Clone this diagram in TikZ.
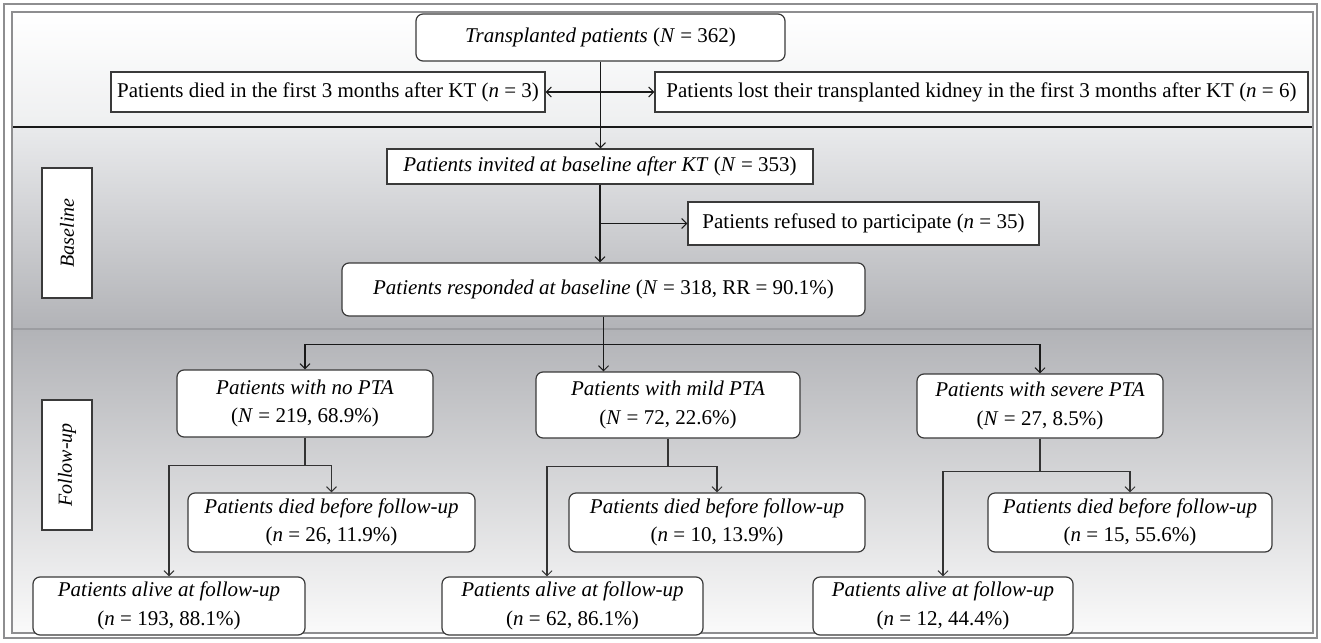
\documentclass[tikz,border=0pt]{standalone}
\usepackage{fontspec}
\setmainfont{Liberation Serif}
\usetikzlibrary{arrows.meta,calc}
\definecolor{boxline}{HTML}{3A3A3A}
\definecolor{sepgrey}{HTML}{9C9DA1}
\definecolor{framegrey}{HTML}{8E8E90}
\begin{document}
\begin{tikzpicture}[x=1pt,y=-1pt,
  font=\fontsize{21}{28.5}\selectfont,
  sq/.style={draw=boxline, line width=1.2pt, fill=white, inner sep=0pt, align=center},
  rd/.style={sq, rounded corners=7pt},
  conn/.style={line width=1.6pt, draw=black!90},
  connb/.style={line width=1.2pt, draw=black!80},
  tip/.style={-{Straight Barb[length=5pt,width=10pt,line width=1pt]}},
  dtip/.style={{Straight Barb[length=5pt,width=10pt,line width=1pt]}-{Straight Barb[length=5pt,width=10pt,line width=1pt]}}]
\useasboundingbox (0,0) rectangle (1321,642);
\fill[white] (0,0) rectangle (1321,642);
% backgrounds
\shade[top color=white, bottom color={rgb,255:red,238;green,239;blue,240}] (13,13) rectangle (1312,127);
\shade[top color={rgb,255:red,233;green,234;blue,236}, bottom color={rgb,255:red,178;green,179;blue,183}] (13,127) rectangle (1312,329);
\shade[top color={rgb,255:red,178;green,179;blue,183}, bottom color={rgb,255:red,250;green,250;blue,250}] (13,329) rectangle (1312,632);
% frame
\draw[framegrey, line width=2.5pt] (4,4) rectangle (1317,638);
\draw[framegrey, line width=1.5pt] (12,12) rectangle (1313,633);
% separators
\draw[black!90, line width=2.2pt] (13,127) -- (1312,127);
\draw[sepgrey, line width=1.5pt] (13,329) -- (1312,329);

% nodes
\node[rd, minimum width=369pt, minimum height=47pt] (top) at (600.5,37.5)
  {\textit{Transplanted patients} (\textit{N} = 362)};
\node[sq, minimum width=434pt, minimum height=40pt] (died3) at (328,92)
  {Patients died in the first 3 months after KT (\textit{n} = 3)};
\node[sq, minimum width=653pt, minimum height=40pt] (lost) at (981.5,92)
  {Patients lost their transplanted kidney in the first 3 months after KT (\textit{n} = 6)};
\node[sq, minimum width=426pt, minimum height=35pt] (inv) at (600,166.5)
  {\textit{Patients invited at baseline after KT} (\textit{N} = 353)};
\node[sq, minimum width=351pt, minimum height=43pt] (ref) at (863.5,223.5)
  {Patients refused to participate (\textit{n} = 35)};
\node[rd, minimum width=523pt, minimum height=53pt] (resp) at (603.5,289.5)
  {\textit{Patients responded at baseline} (\textit{N} = 318, RR = 90.1\%)};
\node[sq, rotate=90, minimum width=130pt, minimum height=50pt, font=\fontsize{20}{24}\selectfont\itshape] (bl) at (67,233) {Baseline};
\node[sq, rotate=90, minimum width=130pt, minimum height=50pt, font=\fontsize{20}{24}\selectfont\itshape] (fu) at (67,465) {Follow-up};

\node[rd, minimum width=256pt, minimum height=67pt] (nopta) at (305,403.5)
  {\textit{Patients with no PTA}\\(\textit{N} = 219, 68.9\%)};
\node[rd, minimum width=264pt, minimum height=66pt] (mild) at (668,405)
  {\textit{Patients with mild PTA}\\(\textit{N} = 72, 22.6\%)};
\node[rd, minimum width=246pt, minimum height=64pt] (sev) at (1040,406)
  {\textit{Patients with severe PTA}\\(\textit{N} = 27, 8.5\%)};

\node[rd, minimum width=287pt, minimum height=59pt] (d1) at (331.5,522.5)
  {\textit{Patients died before follow-up}\\(\textit{n} = 26, 11.9\%)};
\node[rd, minimum width=272pt, minimum height=58pt] (a1) at (169,606)
  {\textit{Patients alive at follow-up}\\(\textit{n} = 193, 88.1\%)};
\node[rd, minimum width=296pt, minimum height=59pt] (d2) at (717,522.5)
  {\textit{Patients died before follow-up}\\(\textit{n} = 10, 13.9\%)};
\node[rd, minimum width=261pt, minimum height=58pt] (a2) at (572.5,606)
  {\textit{Patients alive at follow-up}\\(\textit{n} = 62, 86.1\%)};
\node[rd, minimum width=284pt, minimum height=59pt] (d3) at (1130,522.5)
  {\textit{Patients died before follow-up}\\(\textit{n} = 15, 55.6\%)};
\node[rd, minimum width=260pt, minimum height=58pt] (a3) at (943,606)
  {\textit{Patients alive at follow-up}\\(\textit{n} = 12, 44.4\%)};

% connectors
\draw[conn, tip] (top.south) -- (top.south |- inv.north);
\draw[conn, dtip] (died3.east) -- (lost.west);
\draw[conn, tip] (inv.south) -- (inv.south |- resp.north);
\draw[conn, tip] (inv.south |- ref.west) -- (ref.west);
\coordinate (br) at ($(resp.south)+(0,28)$);
\draw[conn, tip] (resp.south) -- (resp.south |- mild.north);
\draw[conn, tip] (br) -| (nopta.north);
\draw[conn, tip] (br) -| (sev.north);

\coordinate (b1) at ($(nopta.south)+(0,28)$);
\draw[connb] (nopta.south) -- (b1);
\draw[connb, tip] (b1) -| (d1.north);
\draw[connb, tip] (b1) -| (a1.north);

\coordinate (b2) at ($(mild.south)+(0,28)$);
\draw[connb] (mild.south) -- (b2);
\draw[connb, tip] (b2) -| (d2.north);
\draw[connb, tip] (b2) -| ([xshift=-25.5pt]a2.north);

\coordinate (b3) at ($(sev.south)+(0,33)$);
\draw[connb] (sev.south) -- (b3);
\draw[connb, tip] (b3) -| (d3.north);
\draw[connb, tip] (b3) -| (a3.north);
\end{tikzpicture}
\end{document}
